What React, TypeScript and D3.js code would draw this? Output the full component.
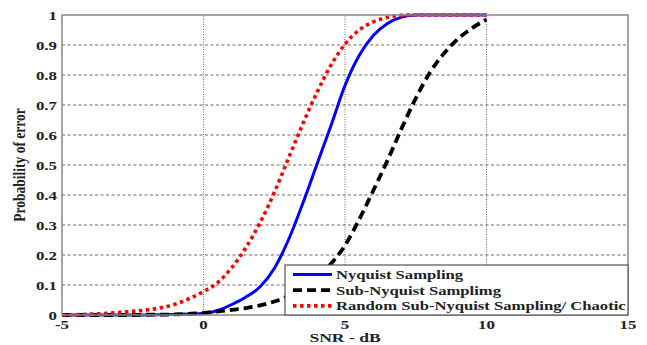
import * as d3 from "d3";

// SNR axis samples (dB)
const snr = [
  -5, -4.5, -4, -3.5, -3, -2.5, -2, -1.5, -1, -0.5, 0, 0.5, 1, 1.5, 2, 2.5, 3, 3.5, 4, 4.5, 5,
  5.5, 6, 6.5, 7, 7.5, 8, 8.5, 9, 9.5, 10,
];

const nyquist = [
  0, 0, 0, 0, 0, 0, 0, 0.001, 0.002, 0.003, 0.005, 0.015, 0.035, 0.06, 0.094, 0.155, 0.25, 0.37,
  0.5, 0.63, 0.765, 0.865, 0.932, 0.972, 0.993, 1, 1, 1, 1, 1, 1,
];

const subNyquist = [
  0, 0, 0, 0, 0, 0, 0.001, 0.001, 0.002, 0.004, 0.007, 0.012, 0.017, 0.023, 0.032, 0.045, 0.063,
  0.087, 0.122, 0.17, 0.232, 0.318, 0.415, 0.515, 0.622, 0.722, 0.808, 0.872, 0.921, 0.957, 0.985,
];

const chaotic = [
  0, 0.001, 0.003, 0.005, 0.008, 0.012, 0.017, 0.024, 0.036, 0.055, 0.078, 0.108, 0.158, 0.225,
  0.308, 0.408, 0.522, 0.635, 0.74, 0.832, 0.903, 0.95, 0.977, 0.992, 0.999, 1, 1, 1, 1, 1, 1,
];

const xTicks = [-5, 0, 5, 10, 15];
const yTicks = [0, 0.1, 0.2, 0.3, 0.4, 0.5, 0.6, 0.7, 0.8, 0.9, 1];

const seriesNames = ["Nyquist Sampling", "Sub-Nyquist Samplimg", "Random Sub-Nyquist Sampling/ Chaotic"];

const W = 647;
const H = 345;
const margin = { top: 15, right: 19, bottom: 30, left: 62 };
const FONT = "'Liberation Serif', 'Times New Roman', serif";
const SX = 1.3; // the source picture is stretched sideways

export default function App() {
  const x = d3.scaleLinear().domain([-5, 15]).range([margin.left, W - margin.right]);
  const y = d3.scaleLinear().domain([0, 1]).range([H - margin.bottom, margin.top]);

  const styles = [
    { data: nyquist, color: "#0000ff", width: 3, dash: undefined as string | undefined },
    { data: subNyquist, color: "#000000", width: 3.8, dash: "9,5" },
    { data: chaotic, color: "#ff0000", width: 3.6, dash: "3.5,3.5" },
  ];

  const line = (vals: number[]) =>
    d3
      .line<number>()
      .x((_, i) => x(snr[i]))
      .y((v) => y(v))
      .curve(d3.curveMonotoneX)(vals) ?? "";

  const x0 = x.range()[0];
  const x1 = x.range()[1];
  const y0 = y.range()[0];
  const y1 = y.range()[1];

  const lg = { left: 285, top: 265, right: x1, bottom: y0 };

  return (
    <svg width={W} height={H} style={{ position: "absolute", left: 0, top: 0, background: "#fff" }}>
      {/* grid */}
      {yTicks.slice(1, -1).map((t) => (
        <line key={`gy${t}`} x1={x0} x2={x1} y1={y(t)} y2={y(t)} stroke="#444" strokeWidth={0.8} strokeDasharray="3,2.5" />
      ))}
      {xTicks.slice(1, -1).map((t) => (
        <line key={`gx${t}`} x1={x(t)} x2={x(t)} y1={y0} y2={y1} stroke="#444" strokeWidth={0.8} strokeDasharray="1,1.5" />
      ))}

      {/* curves */}
      {styles.map((s, i) => (
        <path
          key={i}
          d={line(s.data)}
          fill="none"
          stroke={s.color}
          strokeWidth={s.width}
          strokeDasharray={s.dash}
        />
      ))}

      {/* frame */}
      <rect x={x0} y={y1} width={x1 - x0} height={y0 - y1} fill="none" stroke="#888" strokeWidth={1.5} />

      {/* tick labels */}
      {yTicks.map((t) => (
        <text
          key={`ty${t}`}
          transform={`translate(${x0 - 5},${y(t) + 4.5}) scale(${SX},1)`}
          textAnchor="end"
          fontFamily={FONT}
          fontWeight="bold"
          fontSize={13}
          fill="#222"
        >
          {t}
        </text>
      ))}
      {xTicks.map((t) => (
        <text
          key={`tx${t}`}
          transform={`translate(${x(t)},${y0 + 14}) scale(${SX},1)`}
          textAnchor="middle"
          fontFamily={FONT}
          fontWeight="bold"
          fontSize={13}
          fill="#222"
        >
          {t}
        </text>
      ))}

      {/* axis titles */}
      <text
        transform={`translate(${(x0 + x1) / 2},${H - 3}) scale(1.35,1)`}
        textAnchor="middle"
        fontFamily={FONT}
        fontWeight="bold"
        fontSize={13}
        fill="#222"
      >
        SNR - dB
      </text>
      <text
        transform={`translate(25,${(y0 + y1) / 2}) rotate(-90) scale(1,1.3)`}
        textAnchor="middle"
        fontFamily={FONT}
        fontWeight="bold"
        fontSize={13.5}
        fill="#222"
      >
        Probability of error
      </text>

      {/* legend */}
      <rect x={lg.left} y={lg.top} width={lg.right - lg.left} height={lg.bottom - lg.top} fill="#fff" stroke="#555" strokeWidth={1.2} />
      {seriesNames.map((name, i) => {
        const cy = lg.top + 9.5 + i * 15.7;
        const s = styles[i];
        return (
          <g key={name}>
            <line x1={293} x2={332} y1={cy} y2={cy} stroke={s.color} strokeWidth={s.width} strokeDasharray={s.dash} />
            <text
              transform={`translate(336,${cy + 4.5}) scale(1.28,1)`}
              fontFamily={FONT}
              fontWeight="bold"
              fontSize={13}
              fill="#222"
            >
              {name}
            </text>
          </g>
        );
      })}
    </svg>
  );
}
